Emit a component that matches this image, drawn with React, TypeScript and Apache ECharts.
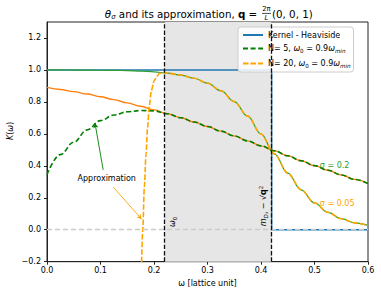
import React, { useEffect, useRef } from 'react';
import * as echarts from 'echarts';

const FONT = 'DejaVu Sans';

// sampling grid (omega, lattice units)
const omegaGrid = [0, 0.025, 0.05, 0.075, 0.1, 0.125, 0.15, 0.175, 0.2, 0.225, 0.25, 0.275, 0.3, 0.325, 0.35, 0.375, 0.4, 0.425, 0.45, 0.475, 0.5, 0.525, 0.55, 0.575, 0.6];
// smeared kernel sigma = 0.2
const kernelSigma02 = [0.891, 0.878, 0.864, 0.849, 0.832, 0.814, 0.794, 0.773, 0.75, 0.726, 0.701, 0.674, 0.646, 0.617, 0.587, 0.556, 0.525, 0.494, 0.463, 0.432, 0.401, 0.372, 0.343, 0.315, 0.289];
// smeared kernel sigma = 0.05
const kernelSigma005 = [1.0, 1.0, 0.999, 0.999, 0.998, 0.997, 0.996, 0.993, 0.988, 0.98, 0.968, 0.948, 0.917, 0.87, 0.802, 0.711, 0.599, 0.475, 0.354, 0.25, 0.168, 0.109, 0.069, 0.043, 0.027];
// Heaviside kernel
const heavisideX = [0, 0.42, 0.42, 0.6];
const heavisideY = [1, 1, 0, 0];
// approximation N = 5
const approxN5 = [0.345, 0.47, 0.548, 0.625, 0.683, 0.718, 0.738, 0.746, 0.744, 0.726, 0.701, 0.674, 0.646, 0.617, 0.587, 0.556, 0.525, 0.494, 0.463, 0.432, 0.401, 0.372, 0.343, 0.315, 0.289];
// approximation N = 20
const approxN20X = [0.1765, 0.179, 0.182, 0.185, 0.188, 0.191, 0.195, 0.2, 0.205, 0.21, 0.215, 0.22, 0.225, 0.25, 0.275, 0.3, 0.325, 0.35, 0.375, 0.4, 0.425, 0.45, 0.475, 0.5, 0.525, 0.55, 0.575, 0.6];
const approxN20Y = [-0.25, 0.0, 0.27, 0.47, 0.64, 0.77, 0.87, 0.93, 0.96, 0.977, 0.984, 0.982, 0.98, 0.968, 0.948, 0.917, 0.87, 0.802, 0.711, 0.599, 0.475, 0.354, 0.25, 0.168, 0.109, 0.069, 0.043, 0.027];

const omega0 = 0.22;
const omegaMax = 0.42;
const xTicks = [0, 0.1, 0.2, 0.3, 0.4, 0.5, 0.6];
const yTicks = [-0.2, 0, 0.2, 0.4, 0.6, 0.8, 1.0, 1.2];

const legendNames = ['Kernel - Heaviside', 'N= 5', 'N= 20'];

const zip = (xs: number[], ys: number[]) => xs.map((x, i) => [x, ys[i]]);

export default function App() {
  const ref = useRef<HTMLDivElement>(null);
  useEffect(() => {
    if (!ref.current) return;
    const chart = echarts.init(ref.current, undefined, { renderer: 'svg' });
    const subRich = {
      n: { fontFamily: FONT, fontSize: 8, color: '#000', lineHeight: 11 },
      i: { fontFamily: FONT, fontSize: 8, fontStyle: 'italic', color: '#000', lineHeight: 11 },
      s: { fontFamily: FONT, fontSize: 5.6, fontStyle: 'italic', color: '#000', lineHeight: 7, verticalAlign: 'bottom' },
      s0: { fontFamily: FONT, fontSize: 5.6, color: '#000', lineHeight: 7, verticalAlign: 'bottom' },
    };
    const option: any = {
      animation: false,
      backgroundColor: '#fff',
      grid: { left: 47, right: 13, top: 22, bottom: 34.3, show: true, borderColor: '#222', borderWidth: 1, backgroundColor: 'transparent' },
      xAxis: {
        type: 'value', min: 0, max: 0.6, interval: 0.1,
        name: 'ω [lattice unit]', nameLocation: 'middle', nameGap: 17,
        nameTextStyle: { fontFamily: FONT, fontSize: 8, color: '#000' },
        axisLine: { show: true, onZero: false, lineStyle: { color: '#222', width: 1 } },
        axisTick: { show: true, inside: false, length: 3, lineStyle: { color: '#222' }, customValues: xTicks },
        axisLabel: { fontFamily: FONT, fontSize: 8, color: '#000', margin: 5, customValues: xTicks, formatter: (v: number) => v.toFixed(1) },
        splitLine: { show: false },
      },
      yAxis: {
        type: 'value', min: -0.2, max: 1.3, interval: 0.2,
        axisLine: { show: true, onZero: false, lineStyle: { color: '#222', width: 1 } },
        axisTick: { show: true, inside: false, length: 3, lineStyle: { color: '#222' }, customValues: yTicks },
        axisLabel: { fontFamily: FONT, fontSize: 8, color: '#000', margin: 6, customValues: yTicks, formatter: (v: number) => (v < -1e-9 ? '−' + Math.abs(v).toFixed(1) : Math.abs(v).toFixed(1)) },
        splitLine: { show: false },
      },
      legend: {
        data: legendNames, orient: 'vertical', left: 238, top: 27,
        itemWidth: 20, itemHeight: 8, itemGap: 5.5,
        padding: [4, 3, 3, 4],
        itemStyle: { opacity: 0, borderWidth: 0 },
        backgroundColor: 'rgba(255,255,255,0.85)', borderColor: '#cccccc', borderWidth: 1, borderRadius: 3,
        textStyle: { fontFamily: FONT, fontSize: 8, color: '#000', rich: subRich },
        formatter: (name: string) => {
          if (name === 'N= 5') return '{n|N= 5, }{i|ω}{s0|0}{n| = 0.9}{i|ω}{s|min}';
          if (name === 'N= 20') return '{n|N= 20, }{i|ω}{s0|0}{n| = 0.9}{i|ω}{s|min}';
          return '{n|' + name + '}';
        },
      },
      series: [
        {
          name: 'shade', type: 'line', data: [], z: 1, silent: true,
          markArea: { silent: true, itemStyle: { color: '#e6e6e6' }, data: [[{ xAxis: omega0 }, { xAxis: omegaMax }]] },
        },
        {
          name: 'Kernel - Heaviside', type: 'line', data: zip(heavisideX, heavisideY), symbol: 'none', z: 2,
          lineStyle: { color: '#1f77b4', width: 1.4 }, itemStyle: { color: '#1f77b4' },
        },
        {
          name: 'sigma 0.2', type: 'line', data: zip(omegaGrid, kernelSigma02), symbol: 'none', z: 2, smooth: 0.4, smoothMonotone: 'x',
          lineStyle: { color: '#ff7f0e', width: 1.4 }, itemStyle: { color: '#ff7f0e' },
        },
        {
          name: 'sigma 0.05', type: 'line', data: zip(omegaGrid, kernelSigma005), symbol: 'none', z: 2, smooth: 0.4, smoothMonotone: 'x',
          lineStyle: { color: '#2ca02c', width: 1.2 }, itemStyle: { color: '#2ca02c' },
        },
        {
          name: 'N= 5', type: 'line', data: zip(omegaGrid, approxN5), symbol: 'none', z: 3, smooth: 0.4, smoothMonotone: 'x',
          lineStyle: { color: '#008000', width: 1.6, type: [5, 2.6] }, itemStyle: { color: '#008000' },
        },
        {
          name: 'N= 20', type: 'line', data: zip(approxN20X, approxN20Y), symbol: 'none', z: 3, smooth: 0.3, smoothMonotone: 'x',
          lineStyle: { color: '#ffa500', width: 1.6, type: [5.5, 2] }, itemStyle: { color: '#ffa500' },
        },
        {
          name: 'marks', type: 'line', data: [], z: 5, silent: true,
          markLine: {
            silent: true, symbol: ['none', 'none'], label: { show: false },
            data: [
              { yAxis: 0, lineStyle: { color: '#cccccc', width: 1.3, type: [5, 3] } },
              { xAxis: omega0, lineStyle: { color: '#111', width: 1.3, type: [4.4, 1.9] } },
              { xAxis: omegaMax, lineStyle: { color: '#111', width: 1.3, type: [4.4, 1.9] } },
            ],
          },
        },
        {
          name: 'arrows', type: 'line', data: [], z: 6, silent: true,
          markLine: {
            silent: true, symbol: ['none', 'arrow'], symbolSize: [4, 5], label: { show: false },
            data: [
              [{ coord: [0.105, 0.375], lineStyle: { color: '#008000', width: 0.9, type: 'solid' } }, { coord: [0.0897, 0.667] }],
              [{ coord: [0.124, 0.266], lineStyle: { color: '#ffa500', width: 0.9, type: 'solid' } }, { coord: [0.177, 0.066] }],
            ],
          },
        },
      ],
    };
    chart.setOption(option);

    const px = (x: number, y: number) => chart.convertToPixel({ gridIndex: 0 }, [x, y]) as number[];
    const pApprox = px(0.1116, 0.32);
    const pOmega0 = px(0.2355, 0.049);
    const pMass = px(0.4043, 0.149);
    const pS02 = px(0.51, 0.4);
    const pS005 = px(0.51, 0.162);

    const titleRich = {
      n: { fontFamily: FONT, fontSize: 10.3, color: '#000' },
      i: { fontFamily: FONT, fontSize: 10.3, fontStyle: 'italic', color: '#000' },
      b: { fontFamily: FONT, fontSize: 10.3, fontWeight: 'bold', color: '#000' },
      s: { fontFamily: FONT, fontSize: 7, fontStyle: 'italic', color: '#000', padding: [5, 0, 0, 0] },
    };
    const labelRich = {
      n: { fontFamily: FONT, fontSize: 8, color: '#000', lineHeight: 11 },
      i: { fontFamily: FONT, fontSize: 8, fontStyle: 'italic', color: '#000', lineHeight: 11 },
      b: { fontFamily: FONT, fontSize: 8, fontWeight: 'bold', color: '#000', lineHeight: 11 },
      s: { fontFamily: FONT, fontSize: 5.6, fontStyle: 'italic', color: '#000', lineHeight: 7, verticalAlign: 'bottom' },
      s0: { fontFamily: FONT, fontSize: 5.6, color: '#000', lineHeight: 7, verticalAlign: 'bottom' },
      sup: { fontFamily: FONT, fontSize: 5.6, color: '#000', lineHeight: 7, verticalAlign: 'top' },
    };

    chart.setOption({
      graphic: [
        { type: 'text', x: 260.5, y: 14, style: { text: '{i|θ}{s|σ}{n| and its approximation, }{b|q}{n| = }', align: 'right', verticalAlign: 'middle', rich: titleRich } },
        { type: 'text', x: 266.5, y: 9.3, style: { text: '2π', fontFamily: FONT, fontSize: 6.8, fill: '#000', align: 'center', verticalAlign: 'middle' } },
        { type: 'line', shape: { x1: 262, y1: 13.4, x2: 271, y2: 13.4 }, style: { stroke: '#000', lineWidth: 0.7 } },
        { type: 'text', x: 266.5, y: 18, style: { text: 'L', fontFamily: FONT, fontSize: 6.8, fontStyle: 'italic', fill: '#000', align: 'center', verticalAlign: 'middle' } },
        { type: 'text', x: 272, y: 14, style: { text: '(0, 0, 1)', fontFamily: FONT, fontSize: 10.3, fill: '#000', align: 'left', verticalAlign: 'middle' } },
        { type: 'text', x: 10.5, y: 131, rotation: Math.PI / 2, style: { text: '{i|K}{n|(}{i|ω}{n|)}', align: 'center', verticalAlign: 'middle', rich: labelRich } },
        { type: 'text', x: pApprox[0], y: pApprox[1], z: 10, style: { text: 'Approximation', fontFamily: FONT, fontSize: 8, fill: '#000', align: 'center', verticalAlign: 'middle' } },
        { type: 'text', x: pOmega0[0], y: pOmega0[1], rotation: Math.PI / 2, z: 10, style: { text: '{i|ω}{s0|0}', align: 'center', verticalAlign: 'middle', rich: labelRich } },
        { type: 'text', x: pMass[0], y: pMass[1], rotation: Math.PI / 2, z: 10, style: { text: '{i|m}{s|D₃}{n| − √}{b|q}{sup|2}', align: 'center', verticalAlign: 'middle', rich: labelRich } },
        { type: 'text', x: pS02[0], y: pS02[1], z: 10, style: { text: 'σ = 0.2', fontFamily: FONT, fontSize: 8, fill: '#2ca02c', align: 'left', verticalAlign: 'middle' } },
        { type: 'text', x: pS005[0], y: pS005[1], z: 10, style: { text: 'σ = 0.05', fontFamily: FONT, fontSize: 8, fill: '#ffa500', align: 'left', verticalAlign: 'middle' } },
      ],
    });

    return () => chart.dispose();
  }, []);
  return <div ref={ref} style={{ width: 381, height: 296, position: 'absolute', left: 0, top: 0 }} />;
}
